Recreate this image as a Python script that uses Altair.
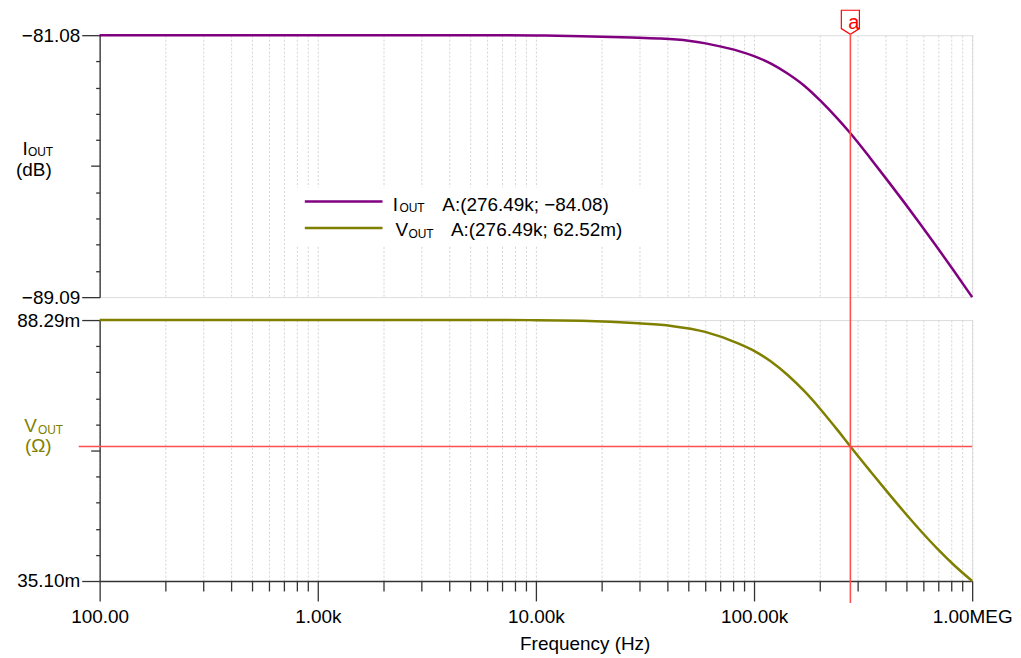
import altair as alt
import pandas as pd

FONT = "Liberation Sans"

# ---- data ----
freq_i = [100, 1000, 5000, 10000, 16200, 27400, 36400, 50000, 60000, 70700, 84500,
          100000, 119600, 143000, 171000, 202000, 242000, 276490, 342000, 409000, 489000,
          579000, 692000, 827000, 1000000]
iout_db = [-81.08, -81.08, -81.08, -81.09, -81.11, -81.15, -81.18, -81.25, -81.33, -81.43,
           -81.56, -81.72, -81.95, -82.26, -82.64, -83.09, -83.64, -84.08, -84.85, -85.52,
           -86.20, -86.86, -87.57, -88.30, -89.09]

freq_v = [100, 1000, 5000, 10000, 16200, 29500, 41800, 59700, 84500, 101000, 119600,
          143000, 171000, 202000, 242000, 276490, 342000, 409000, 489000, 579000,
          692000, 827000, 1000000]
vout_m = [88.29, 88.29, 88.29, 88.27, 88.15, 87.62, 87.09, 85.88, 83.54, 81.91, 79.84,
          77.04, 73.68, 70.07, 65.80, 62.52, 57.43, 53.21, 49.12, 45.40, 41.70, 38.31,
          35.10]

x_domain = [100, 1000000]
iout_domain = [-89.09, -81.08]
vout_domain = [35.10, 88.29]
cursor_f = 276490
cursor_iout = -84.08
cursor_vout = 62.52
decade_vals = [100, 1000, 10000, 100000, 1000000]
decade_labels = ["100.00", "1.00k", "10.00k", "100.00k", "1.00MEG"]
legend_texts = ["A:(276.49k; \u221284.08)", "A:(276.49k; 62.52m)"]

PURPLE = "#800080"
OLIVE = "#808000"
RED = "#ff5050"
AXC = "#333333"
GRIDC = "#d4d4d4"

W, H1, H2 = 876, 263, 262

df_i = pd.DataFrame({"f": freq_i, "v": iout_db})
df_v = pd.DataFrame({"f": freq_v, "v": vout_m})
cur = alt.Data(values=[{"f": cursor_f, "v": cursor_vout, "i": cursor_iout}])
one = alt.Data(values=[{}])

x_ticks = [m * 10 ** e for e in range(2, 6) for m in range(1, 10)] + [1000000]
dec_test = "indexof([" + ",".join(str(d) for d in decade_vals) + "], datum.value) >= 0"
lab_expr = " : ".join(f"datum.value == {d} ? '{l}'" for d, l in zip(decade_vals, decade_labels)) + " : ''"


def y_ticks(dom):
    vals = [round(dom[0] + (dom[1] - dom[0]) * k / 10, 6) for k in range(11)]
    vals[0], vals[-1] = dom[0], dom[1]
    return vals


ytick_size = {"condition": [{"test": "datum.index == 0 || datum.index == 1", "value": 18},
                            {"test": "abs(datum.index - 0.5) < 0.001", "value": 9}],
              "value": 4}

xscale = alt.Scale(type="log", domain=x_domain, nice=False)

x_top = alt.X("f:Q", scale=xscale,
              axis=alt.Axis(values=x_ticks, grid=True, gridColor=GRIDC, gridDash=[2, 2],
                            gridWidth=1, domain=False, ticks=False, labels=False, title=None))
x_bot = alt.X("f:Q", scale=xscale,
              axis=alt.Axis(values=x_ticks, grid=True, gridColor=GRIDC, gridDash=[2, 2],
                            gridWidth=1, domainColor=AXC, domainWidth=1.3,
                            tickColor=AXC, tickWidth=1.3,
                            tickSize={"condition": {"test": dec_test, "value": 20}, "value": 10},
                            labelExpr=lab_expr, labelPadding=7, labelFont=FONT,
                            labelFontSize=19, labelColor="#000", labelFlush=False,
                            labelOverlap=False,
                            title="Frequency (Hz)", titleFont=FONT, titleFontSize=19,
                            titleFontWeight="normal", titleColor="#000",
                            titleX=487, titleY=69, titleAlign="center",
                            titleBaseline="alphabetic"))


def y_enc(dom, fmt_suffix):
    return alt.Y("v:Q", scale=alt.Scale(domain=dom, nice=False, zero=False),
                 axis=alt.Axis(values=y_ticks(dom), grid=False, domainColor=AXC, domainWidth=1.3,
                               tickColor=AXC, tickWidth=1.3, tickSize=ytick_size,
                               labelExpr="datum.index == 0 || datum.index == 1 ? format(datum.value, '.2f') + '"
                                         + fmt_suffix + "' : ''",
                               labelPadding=2, labelFont=FONT, labelFontSize=19, labelColor="#000",
                               labelFlush=False, labelOverlap=False, title=None))


y_top = y_enc(iout_domain, "")
y_bot = y_enc(vout_domain, "m")


def txt(s, x, y, size=19, color="#000", align="left"):
    return alt.Chart(one).mark_text(align=align, baseline="alphabetic", font=FONT,
                                    fontSize=size, color=color).encode(
        x=alt.value(x), y=alt.value(y), text=alt.value(s))


def hline(x1, x2, y, color, width):
    return alt.Chart(one).mark_rule(color=color, strokeWidth=width).encode(
        x=alt.value(x1), x2=alt.value(x2), y=alt.value(y))


top_line = alt.Chart(df_i).mark_line(color=PURPLE, strokeWidth=2.5, interpolate="monotone").encode(
    x=x_top, y=y_top)

legend_bg = alt.Chart(one).mark_rect(color="white", opacity=1).encode(
    x=alt.value(191), x2=alt.value(551), y=alt.value(153), y2=alt.value(211))

marker_path = "M-0.754,-1L0.754,-1L0.754,0.53L0,1L-0.754,0.53Z"
marker = alt.Chart(cur).mark_point(shape=marker_path, size=580, fill="white", fillOpacity=1,
                                   stroke="#ff0000", strokeWidth=1.2, opacity=1).encode(
    x=x_top, y=alt.value(-13))
marker_txt = alt.Chart(cur).mark_text(align="center", baseline="alphabetic", font=FONT,
                                      fontSize=20, color="#ff0000", dx=3.5).encode(
    x=x_top, y=alt.value(-6.5), text=alt.value("a"))

# invisible anchors fixing the outer bounds of the drawing
anchor_l = alt.Chart(one).mark_rule(opacity=0, strokeOpacity=0).encode(
    x=alt.value(-100), y=alt.value(10), y2=alt.value(20))
anchor_t = alt.Chart(one).mark_rule(opacity=0, strokeOpacity=0).encode(
    x=alt.value(10), y=alt.value(-30), y2=alt.value(-20))

top = alt.layer(
    top_line, legend_bg,
    hline(206, 284, 167, PURPLE, 2.5), hline(206, 284, 193.7, OLIVE, 2.5),
    txt("I", 294.3, 176.3), txt("OUT", 301, 177.5, size=12), txt(legend_texts[0], 344, 176.3),
    txt("V", 297, 202), txt("OUT", 310, 203.5, size=12), txt(legend_texts[1], 352.7, 202),
    txt("I", -77.4, 120.3), txt("OUT", -72, 121.5, size=12), txt("(dB)", -84, 141),
    marker, marker_txt, anchor_l, anchor_t,
).properties(width=W, height=H1)

bot_line = alt.Chart(df_v).mark_line(color=OLIVE, strokeWidth=2.5, interpolate="monotone").encode(
    x=x_bot, y=y_bot)
h_cursor = alt.Chart(cur).mark_rule(color=RED, strokeWidth=1.6).encode(
    y=y_bot, x=alt.value(-21), x2=alt.value(W))
v_cursor = alt.Chart(cur).mark_rule(color=RED, strokeWidth=1.6).encode(
    x=x_bot, y=alt.value(-288), y2=alt.value(284))

bottom = alt.layer(
    bot_line, h_cursor, v_cursor,
    txt("V", -75.7, 112, color=OLIVE), txt("OUT", -62, 114.5, size=12, color=OLIVE),
    txt("(\u03a9)", -75, 132.7, color=OLIVE),
).properties(width=W, height=H2)

chart = alt.vconcat(top, bottom, spacing=23, bounds="flush").properties(
    padding={"left": -9, "top": -5, "right": 0, "bottom": 0}
).configure_view(stroke="#dddddd", strokeWidth=2).configure(font=FONT)

chart.save("out.html", embed_options={"renderer": "svg", "actions": False})
